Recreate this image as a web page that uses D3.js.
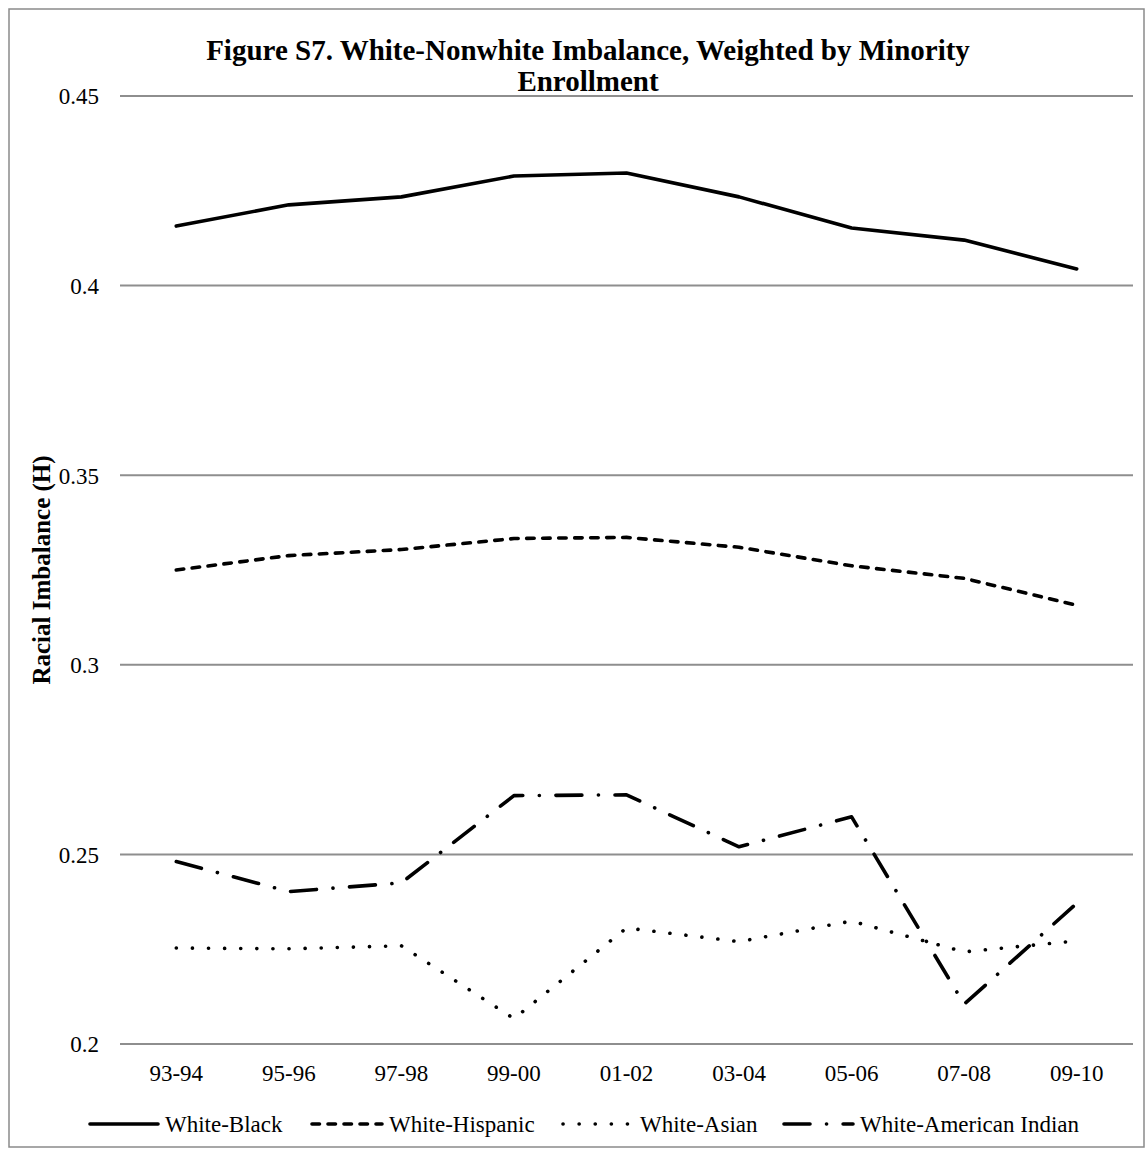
<!DOCTYPE html>
<html>
<head>
<meta charset="utf-8">
<script src="https://cdn.jsdelivr.net/npm/d3@7"></script>
<style>
  html, body { margin: 0; padding: 0; background: #fff; }
  svg { display: block; }
  svg text { font-family: "Liberation Serif", "Times New Roman", serif; }
</style>
</head>
<body>
<svg id="chart" width="1145" height="1156"></svg>
<script>
// ---- data ----
const categories = ["93-94", "95-96", "97-98", "99-00", "01-02", "03-04", "05-06", "07-08", "09-10"];
const whiteBlack    = [0.4157, 0.4213, 0.4234, 0.4289, 0.4297, 0.4234, 0.4152, 0.4120, 0.4044];
const whiteHispanic = [0.3250, 0.3288, 0.3304, 0.3333, 0.3336, 0.3310, 0.3261, 0.3228, 0.3157];
const whiteAsian    = [0.2253, 0.2251, 0.2259, 0.2067, 0.2306, 0.2270, 0.2324, 0.2243, 0.2272];
const whiteAmInd    = [0.2481, 0.2402, 0.2425, 0.2655, 0.2657, 0.2520, 0.2599, 0.2105, 0.2371];
const seriesNames   = ["White-Black", "White-Hispanic", "White-Asian", "White-American Indian"];
const yTickValues   = [0.2, 0.25, 0.3, 0.35, 0.4, 0.45];
const titleLines    = ["Figure S7. White-Nonwhite Imbalance, Weighted by Minority", "Enrollment"];
const yAxisTitle    = "Racial Imbalance (H)";

// ---- styles per series ----
const styles = [
  { dash: null },
  { dash: "7.5,8.5" },
  { dash: "0.1,16" },
  { dash: "26,16.5,0.1,16.5" }
];
const seriesData = [whiteBlack, whiteHispanic, whiteAsian, whiteAmInd];

const svg = d3.select("#chart");

// frame
svg.append("rect")
  .attr("x", 9).attr("y", 9).attr("width", 1135).attr("height", 1138)
  .attr("fill", "none").attr("stroke", "#8a8a8a").attr("stroke-width", 1.5);

const plot = { left: 120, right: 1133, top: 96, bottom: 1044 };

const x = d3.scaleBand().domain(categories).range([plot.left, plot.right]);
const xc = c => x(c) + x.bandwidth() / 2;
const y = d3.scaleLinear().domain([0.2, 0.45]).range([plot.bottom, plot.top]);

// gridlines
svg.append("g").selectAll("line").data(yTickValues).join("line")
  .attr("x1", plot.left).attr("x2", plot.right)
  .attr("y1", d => y(d)).attr("y2", d => y(d))
  .attr("stroke", "#8e8e8e").attr("stroke-width", 2);

// y axis
const yAxis = d3.axisLeft(y).tickValues(yTickValues).tickSize(0).tickPadding(0)
  .tickFormat(d => String(+d.toFixed(2)));
const gy = svg.append("g").attr("transform", `translate(99,0)`).call(yAxis)
  .attr("font-family", "Liberation Serif").attr("font-size", 23);
gy.select(".domain").remove();
gy.selectAll("text").attr("fill", "#000").attr("dy", "0.34em").attr("x", 0);

// x axis
const xAxis = d3.axisBottom(x).tickSize(0).tickPadding(0);
const gx = svg.append("g").attr("transform", `translate(0,${plot.bottom})`).call(xAxis)
  .attr("font-family", "Liberation Serif").attr("font-size", 23);
gx.select(".domain").remove();
gx.selectAll("text").attr("fill", "#000").attr("y", 29).attr("dy", "0.34em");

// lines
const line = d3.line().x((d, i) => xc(categories[i])).y(d => y(d));
seriesData.forEach((vals, i) => {
  svg.append("path")
    .datum(vals)
    .attr("d", line)
    .attr("fill", "none")
    .attr("stroke", "#000")
    .attr("stroke-width", 3.6)
    .attr("stroke-linejoin", "round")
    .attr("stroke-linecap", "round")
    .attr("stroke-dasharray", styles[i].dash);
});

// title
svg.append("text")
  .attr("text-anchor", "middle")
  .attr("font-weight", "bold").attr("font-size", 29)
  .selectAll("tspan").data(titleLines).join("tspan")
  .attr("x", 588).attr("y", (d, i) => 60 + i * 31).text(d => d);

// y axis title
svg.append("text")
  .attr("transform", "translate(50,570) rotate(-90)")
  .attr("text-anchor", "middle")
  .attr("font-weight", "bold").attr("font-size", 25)
  .text(yAxisTitle);

// legend
const legendY = 1124;
const legendItems = [
  { x1: 90,  x2: 158 },
  { x1: 312, x2: 382 },
  { x1: 563, x2: 633 },
  { x1: 784, x2: 853 }
];
const lg = svg.append("g");
legendItems.forEach((it, i) => {
  lg.append("line")
    .attr("x1", it.x1).attr("x2", it.x2).attr("y1", legendY).attr("y2", legendY)
    .attr("stroke", "#000").attr("stroke-width", 3.6)
    .attr("stroke-linecap", "round")
    .attr("stroke-dasharray", styles[i].dash);
  lg.append("text")
    .attr("x", it.x2 + 7).attr("y", legendY).attr("dy", "0.34em")
    .attr("font-size", 23)
    .text(seriesNames[i]);
});
</script>
</body>
</html>
